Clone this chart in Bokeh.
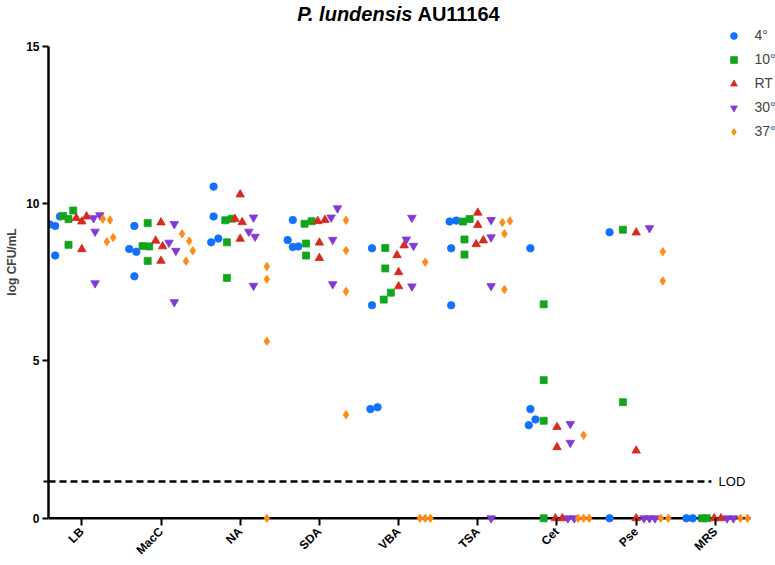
import math
from bokeh.plotting import figure
from bokeh.models import Range1d, FixedTicker, Legend, LegendItem, Label, ColumnDataSource
from bokeh.embed import file_html
from bokeh.resources import INLINE

categories = ["LB", "MacC", "NA", "SDA", "VBA", "TSA", "Cet", "Pse", "MRS"]
temps = ["4°", "10°", "RT", "30°", "37°"]
LOD = 1.17

# log CFU/mL values per category (replicates), one list per temperature
t4_vals = [[9.34, 9.29, 9.59, 8.35], [9.29, 8.56, 8.47, 7.69], [10.54, 9.59, 8.77, 8.89],
           [9.48, 8.84, 8.62, 8.64], [8.58, 6.77, 3.47, 3.53], [9.43, 9.46, 8.58, 6.77],
           [8.58, 3.47, 3.14, 2.96], [9.09, 0], [0, 0]]
t10_vals = [[9.61, 9.51, 9.78, 8.69], [9.38, 8.65, 8.64, 8.18], [9.47, 9.52, 8.77, 7.64],
            [9.36, 9.44, 8.73, 8.35], [8.59, 7.94, 7.17, 6.95], [9.43, 9.51, 8.86, 8.38],
            [6.80, 4.39, 3.10, 0], [9.17, 3.69], [0, 0]]
tRT_vals = [[9.54, 9.43, 9.59, 8.55], [9.40, 8.82, 8.64, 8.18], [10.29, 9.51, 9.41, 8.88],
            [9.44, 9.48, 8.76, 8.27], [8.67, 8.36, 7.82, 7.37], [9.71, 9.32, 8.83, 8.71],
            [2.90, 2.26, 0, 0], [9.08, 2.15, 0], [0, 0]]
t30_vals = [[9.54, 9.63, 9.11, 7.47], [9.35, 8.76, 8.50, 6.87], [9.56, 9.11, 8.95, 7.39],
            [9.85, 9.56, 8.85, 7.44], [9.55, 8.86, 8.66, 7.37], [9.48, 8.93, 7.38, 0],
            [3.00, 2.40, 0, 0], [9.22, 0, 0, 0], [0, 0]]
t37_vals = [[9.51, 9.48, 8.79, 8.92], [9.04, 8.81, 8.50, 8.17], [8.00, 7.60, 5.63, 0],
            [9.47, 8.51, 7.21, 3.29], [8.14, 0, 0, 0], [9.40, 9.45, 9.04, 7.27],
            [2.64, 0, 0, 0], [8.47, 7.54, 0, 0], [0, 0]]

# horizontal scatter spread of each replicate (category units)
t4_jit = [[-0.07, 0, 0.06, 0], [0, -0.065, 0.025, 0], [0, 0, -0.03, 0.06], [0, -0.065, 0, 0.07],
          [0, 0, -0.02, 0.07], [-0.02, 0.065, 0, 0], [0, 0, 0.065, -0.02], [0, 0], [-0.03, 0.05]]
t10_jit = [[-0.07, 0, 0.06, 0], [0, -0.065, 0.02, 0], [-0.02, 0.06, 0, 0], [-0.02, 0.07, 0, 0],
           [0, 0, 0.07, -0.02], [-0.02, 0.065, 0, 0], [0, 0, 0, 0], [0, 0], [0, 0.06]]
tRT_jit = [[-0.07, 0, 0.06, 0], [0, -0.067, 0.02, 0], [0, -0.065, 0.025, 0], [-0.02, 0.07, 0, 0],
           [0.07, -0.02, 0, 0], [0, 0, 0.07, -0.02], [0, 0, -0.02, 0.067], [0, 0, 0], [-0.015, 0.07]]
t30_jit = [[-0.02, 0.06, 0, 0], [0, -0.067, 0.02, 0], [0, -0.06, 0.02, 0], [0.06, -0.02, 0, 0],
           [0, -0.07, 0.02, 0], [0, 0, 0, 0], [0, 0, -0.03, 0.05], [0, -0.07, 0, 0.07], [-0.02, 0.06]]
t37_jit = [[-0.07, 0.02, -0.02, 0.06], [-0.07, 0.02, 0.065, -0.02], [0, 0, 0, 0], [0, 0, 0, 0],
           [0, -0.067, 0, 0.067], [-0.025, 0.07, 0, 0], [0, -0.07, 0, 0.07], [0, 0, -0.025, 0.07],
           [-0.02, 0.07]]

all_vals = [t4_vals, t10_vals, tRT_vals, t30_vals, t37_vals]
all_jit = [t4_jit, t10_jit, tRT_jit, t30_jit, t37_jit]

colors = ["#1170ff", "#12a51c", "#d62a1e", "#8438d8", "#ff8a14"]
markers = ["circle", "square", "triangle", "inverted_triangle", "diamond"]
sizes = [7.5, 7, 8.5, 8.5, 8.5]
dodge = [-0.336, -0.168, 0.0, 0.168, 0.336]

X0, X_AXIS_END, X1 = -0.4205, 8.443, 8.759
Y0, Y1 = -0.165, 16.454

p = figure(width=775, height=565, output_backend="svg", toolbar_location=None,
           x_range=Range1d(X0, X1), y_range=Range1d(Y0, Y1),
           min_border_left=48, min_border_right=0, min_border_top=0, min_border_bottom=41)
p.title.visible = False
p.grid.visible = False
p.outline_line_color = None
p.background_fill_color = "white"
p.border_fill_color = "white"

# x axis line at y = 0
p.segment(x0=[X0], y0=[0], x1=[X_AXIS_END], y1=[0], line_color="black", line_width=2.5)

# LOD dashed line
p.segment(x0=[X0], y0=[LOD], x1=[7.95], y1=[LOD], line_color="black",
          line_width=2.5, line_dash="7 4")
p.add_layout(Label(x=8.04, y=LOD, text="LOD", text_baseline="middle", text_align="left",
                   text_font="Liberation Sans", text_font_size="13px", text_color="black"))

items = []
for k, t in enumerate(temps):
    xs, ys = [], []
    for ci, cat in enumerate(categories):
        for v, j in zip(all_vals[k][ci], all_jit[k][ci]):
            xs.append(ci + dodge[k] + j)
            ys.append(v)
    src = ColumnDataSource(dict(x=xs, y=ys))
    r = p.scatter("x", "y", source=src, marker=markers[k], size=sizes[k],
                  fill_color=colors[k], line_color=colors[k], line_width=0.8)
    items.append(LegendItem(label=t, renderers=[r]))

legend = Legend(items=items, location=(676.5, 383.5), glyph_width=17, glyph_height=17,
                label_height=17, spacing=7, padding=0, margin=0, label_standoff=13,
                label_text_font="Liberation Sans", label_text_font_size="14px",
                border_line_color=None, background_fill_alpha=0)
p.add_layout(legend)

# axes
xa = p.xaxis[0]
xa.ticker = FixedTicker(ticks=list(range(len(categories))))
xa.major_label_overrides = {i: c for i, c in enumerate(categories)}
xa.major_label_orientation = math.pi / 4
xa.major_label_text_font = "Liberation Sans"
xa.major_label_text_font_style = "bold"
xa.major_label_text_font_size = "12px"
xa.major_label_text_color = "black"
xa.major_label_standoff = 4
xa.axis_line_color = None
xa.major_tick_in = 5
xa.major_tick_out = 2
xa.major_tick_line_width = 2
xa.minor_tick_line_color = None
xa.minor_tick_in = 0
xa.minor_tick_out = 0

ya = p.yaxis[0]
ya.ticker = FixedTicker(ticks=[0, 5, 10, 15], minor_ticks=[LOD])
ya.bounds = (0, 15)
ya.axis_label = "log CFU/mL"
ya.axis_label_text_font = "Liberation Sans"
ya.axis_label_text_font_style = "bold"
ya.axis_label_text_font_size = "12px"
ya.axis_label_standoff = 4
ya.major_label_text_font = "Liberation Sans"
ya.major_label_text_font_style = "bold"
ya.major_label_text_font_size = "12px"
ya.major_label_text_color = "black"
ya.major_label_standoff = 3
ya.axis_line_width = 2.5
ya.axis_line_color = "black"
ya.major_tick_out = 6
ya.major_tick_in = 0
ya.major_tick_line_width = 2
ya.minor_tick_out = 5
ya.minor_tick_in = 0
ya.minor_tick_line_width = 2
ya.minor_tick_line_color = "black"

# title (mixed italic / upright)
p.add_layout(Label(x=4.175, y=16.01, text="P. lundensis",
                   text_align="right", text_baseline="middle", text_font="Liberation Sans",
                   text_font_style="bold italic", text_font_size="20px", text_color="black"))
p.add_layout(Label(x=4.238, y=16.01, text="AU11164",
                   text_align="left", text_baseline="middle", text_font="Liberation Sans",
                   text_font_style="bold", text_font_size="20px", text_color="black"))

open("out.html", "w").write(file_html(p, INLINE))
